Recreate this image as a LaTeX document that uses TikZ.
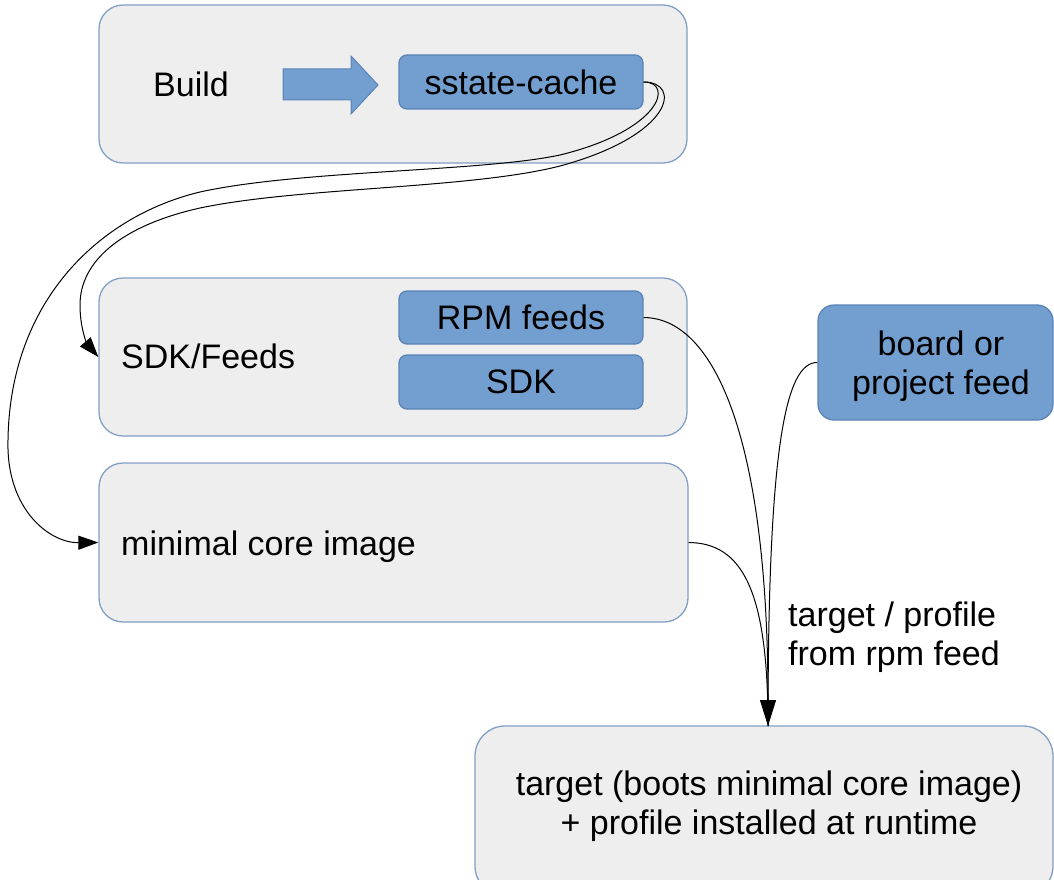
\documentclass[tikz,border=0pt]{standalone}
\usepackage{fontspec}
\setmainfont{Liberation Sans}
\usetikzlibrary{arrows.meta}

\definecolor{panelfill}{HTML}{EEEEEE}
\definecolor{panelrim}{HTML}{829FC6}
\definecolor{tilefill}{HTML}{729FCF}
\definecolor{tilerim}{HTML}{5A83B6}

\begin{document}
\begin{tikzpicture}[x=1pt,y=-1pt,
  panel/.style={draw=panelrim, fill=panelfill, line width=1.3pt, rounded corners=24pt, inner sep=0pt},
  tile/.style={draw=tilerim, fill=tilefill, line width=1.3pt, rounded corners=8pt, inner sep=0pt,
               font=\fontsize{34}{39}\selectfont},
  txt/.style={inner sep=0pt, font=\fontsize{34}{39}\selectfont},
  link/.style={line width=1pt, draw=black},
  sidetip/.style={-{Triangle[length=20pt,width=14pt]}},
  downtip/.style={-{Triangle[length=26pt,width=16pt]}}
]
\useasboundingbox (0,0) rectangle (1054,880);
\clip (0,0) rectangle (1054,880);

% stage panels
\node[panel, minimum width=588pt, minimum height=158pt] (build) at (393,84) {};
\node[panel, minimum width=588pt, minimum height=158pt] (feeds) at (393,357) {};
\node[panel, minimum width=589pt, minimum height=159pt] (core) at (393.5,542.5) {};
\node[panel, minimum width=578pt, minimum height=170pt, rounded corners=30pt] (target) at (764,811) {};

% artefact tiles
\node[tile, minimum width=244pt, minimum height=54pt] (sstate) at (521,82) {sstate-cache};
\node[tile, minimum width=244pt, minimum height=53pt] (rpm) at (521,317.5) {RPM feeds};
\node[tile, minimum width=244pt, minimum height=54pt] (sdk) at (521,382) {SDK};
\node[tile, rounded corners=16pt, minimum width=235pt, minimum height=115pt] (board) at (935.5,362.5) {};

% texts
\node[txt, anchor=base] (buildtxt) at (191,97) {Build};
\node[txt, anchor=base west] (feedstxt) at (121,368) {SDK/Feeds};
\node[txt, anchor=base west] (coretxt) at (121,555) {minimal core image};
\node[txt, align=center] (boardtxt) at (941,366) {board or\\project feed};
\node[txt, align=center] (targettxt) at (769,806) {target (boots minimal core image)\\+ profile installed at runtime};
\node[txt, align=left, anchor=west] (via) at (788,637) {target / profile\\from rpm feed};

% block arrow from Build to sstate-cache
\filldraw[fill=tilefill, draw=tilerim, line width=1pt]
  (283,69) -- (351,69) -- (351,56) -- (378,85) -- (351,114) -- (351,100) -- (283,100) -- cycle;

% sstate-cache feeds the SDK/feeds and the core image
\draw[link, sidetip] (sstate.east) .. controls (682,82) and (674,135) .. (560,166)
  .. controls (470,189) and (300,187) .. (200,208)
  .. controls (120,226) and (80,262) .. (80,305)
  .. controls (80,330) and (88,345) .. (feeds.west);
\draw[link, sidetip] (sstate.east) .. controls (674,82) and (662,130) .. (560,155)
  .. controls (480,172) and (300,170) .. (200,192)
  .. controls (100,216) and (10,300) .. (8,440)
  .. controls (6,510) and (50,543) .. (core.west);

% everything meets at the target
\coordinate (tin) at (768,726);
\draw[link] (board.west) .. controls (785,362) and (768,450) .. (tin);
\draw[link] (core.east) .. controls (742,543) and (768,590) .. (tin);
\draw[link, downtip] (rpm.east) .. controls (715,318) and (768,440) .. (tin);
\end{tikzpicture}
\end{document}
